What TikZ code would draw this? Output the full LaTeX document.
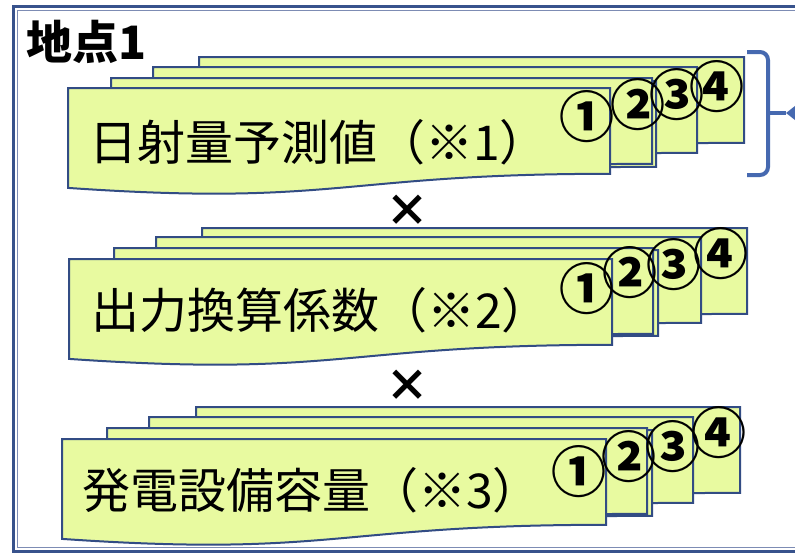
\documentclass[tikz,border=0pt]{standalone}
\usepackage{fontspec}
\setmainfont{Noto Sans CJK JP}
\usetikzlibrary{arrows.meta}
\definecolor{cardfill}{RGB}{232,250,160}
\definecolor{cardline}{RGB}{50,76,132}
\definecolor{frameout}{RGB}{56,82,140}
\definecolor{framein}{RGB}{125,140,180}
\definecolor{bracecol}{RGB}{70,105,176}
\tikzset{
  card/.style={fill=cardfill,draw=cardline,line width=2pt,line join=miter},
  cardtext/.style={anchor=west,inner sep=0pt,font=\fontsize{48}{48}\selectfont},
  numtext/.style={inner sep=0pt,font=\fontsize{55}{55}\selectfont\bfseries},
  titletext/.style={anchor=west,inner sep=0pt,font=\fontsize{46}{46}\selectfont\bfseries},
  timestext/.style={inner sep=0pt,font=\fontsize{44}{44}\selectfont\bfseries},
  bracestyle/.style={draw=bracecol,line width=4pt,rounded corners=8pt},
}
\newcommand\doccard[3]{\filldraw[card] (#1,#2) -- ({#1+#3},#2) -- ({#1+#3},{#2+85.8}) .. controls ({#1+#3/2},{#2+85.8}) and ({#1+#3/2},{#2+118.6}) .. (#1,{#2+99.9}) -- cycle;}
\begin{document}
\begin{tikzpicture}[x=1pt,y=-1pt]
\useasboundingbox (0,0) rectangle (795,554);
\clip (0,0) rectangle (795,554);
\fill[white] (0,0) rectangle (795,554);
% frame
\draw[frameout,line width=3pt] (13.5,6.5) rectangle (850,551);
\draw[framein,line width=1pt] (17.5,10) rectangle (850,547.5);
\node[titletext] (title) at (26,42) {地点1};
% stack 1
\doccard{199}{57}{545}
\doccard{153}{67}{544}
\doccard{116}{81}{540}
\doccard{111}{78}{541}
\doccard{68}{88}{542}
\node[cardtext] (t1) at (89,142) {日射量予測値（※1）};
\node[numtext] (s1n4) at (717,87) {④};
\node[numtext] (s1n3) at (677,95) {③};
\node[numtext] (s1n2) at (638,105) {②};
\node[numtext] (s1n1) at (587,117) {①};
\node[timestext] (x1) at (407,211) {×};
% stack 2
\doccard{202}{228}{545}
\doccard{156}{237}{545}
\doccard{119}{250}{539}
\doccard{114}{248}{539}
\doccard{69}{259}{543}
\node[cardtext] (t2) at (91,310) {出力換算係数（※2）};
\node[numtext] (s2n4) at (721,254) {④};
\node[numtext] (s2n3) at (674,265) {③};
\node[numtext] (s2n2) at (630,273) {②};
\node[numtext] (s2n1) at (587,289) {①};
\node[timestext] (x2) at (407,386) {×};
% stack 3
\doccard{196}{407}{544}
\doccard{149}{417}{544}
\doccard{112}{430}{540}
\doccard{107}{428}{540}
\doccard{62}{439}{544}
\node[cardtext] (t3) at (82,490) {発電設備容量（※3）};
\node[numtext] (s3n4) at (719,433) {④};
\node[numtext] (s3n3) at (673,447) {③};
\node[numtext] (s3n2) at (629,457) {②};
\node[numtext] (s3n1) at (579,472) {①};
% brace and arrow
\coordinate (braceTop) at (747,52);
\coordinate (braceBot) at (747,175);
\coordinate (braceMid) at (768,113);
\coordinate (braceTip) at (786,113);
\coordinate (arrowFrom) at (840,113);
\draw[bracestyle] (braceTop) -| (braceMid);
\draw[bracestyle] (braceBot) -| (braceMid);
\draw[draw=bracecol,line width=4pt] (braceMid) -- (braceTip);
\draw[draw=bracecol,line width=4pt,-{Triangle[length=12pt,width=18pt]}] (arrowFrom) -- (braceTip);
\end{tikzpicture}
\end{document}
